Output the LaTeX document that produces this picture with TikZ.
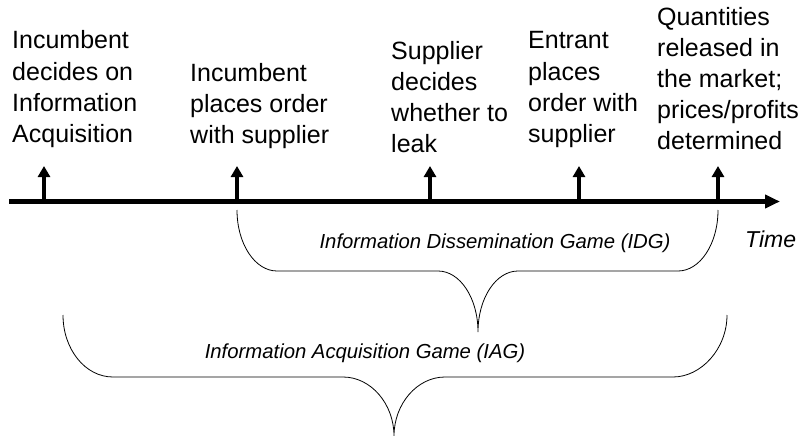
\documentclass[tikz,border=0pt]{standalone}
\usepackage{fontspec}
\setmainfont{Liberation Sans}
\usetikzlibrary{arrows.meta}
\begin{document}
\begin{tikzpicture}[
        x=1pt, y=-1pt,
        event/.style={
            anchor=base west,
            align=left,
            inner sep=0pt,
            font=\fontsize{25}{31}\selectfont,
        },
        game/.style={
            anchor=base,
            inner sep=0pt,
            font=\fontsize{20.3}{24}\selectfont\itshape,
        },
        eventarrow/.style={
            line width=4.3pt,
            -{Triangle[length=11pt,width=12pt]},
        },
        gamebrace/.style={
            line width=0.8pt,
        }
    ]
    \useasboundingbox (0,0) rectangle (809,436);

    \node (E1) at (12,142) [event] {Incumbent\\decides on\\Information\\Acquisition};
    \node (E2) at (190,143) [event] {Incumbent\\places order\\with supplier};
    \node (E3) at (391,152) [event] {Supplier\\decides\\whether to\\leak};
    \node (E4) at (528,142) [event] {Entrant\\places\\order with\\supplier};
    \node (E5) at (657,149) [event] {Quantities\\released in\\the market;\\prices/profits\\determined};

    \coordinate (T0) at (9,201.5);
    \coordinate (T1) at (780,201.5);
    \draw [line width=4.7pt, -{Triangle[length=15pt,width=13pt]}] (T0) -- (T1);
    \node (time) at (745,247) [anchor=base west, inner sep=0pt, font=\fontsize{23}{26}\selectfont\itshape] {Time};

    \coordinate (A1) at (44,166);
    \coordinate (A2) at (237,166);
    \coordinate (A3) at (430,166);
    \coordinate (A4) at (579,166);
    \coordinate (A5) at (718,166);
    \draw [eventarrow] (44,201.5) -- (A1);
    \draw [eventarrow] (237,201.5) -- (A2);
    \draw [eventarrow] (430,201.5) -- (A3);
    \draw [eventarrow] (579,201.5) -- (A4);
    \draw [eventarrow] (718,201.5) -- (A5);

    % dissemination game
    \draw [gamebrace] (237,210) .. controls (237,244) and (255,271) .. (277,271)
        -- (438,271) .. controls (460,271) and (478,298) .. (478,332)
        .. controls (478,298) and (496,271) .. (518,271)
        -- (678,271) .. controls (700,271) and (718,244) .. (718,210);
    \node (IDG) at (495,248) [game] {Information Dissemination Game (IDG)};

    % acquisition game
    \draw [gamebrace] (63,315) .. controls (63,349) and (85,377) .. (113,377)
        -- (343,377) .. controls (371,377) and (394,404) .. (394,436)
        .. controls (394,404) and (417,377) .. (445,377)
        -- (673,377) .. controls (701,377) and (727,349) .. (727,315);
    \node (IAG) at (365,358) [game] {Information Acquisition Game (IAG)};

\end{tikzpicture}
\end{document}
